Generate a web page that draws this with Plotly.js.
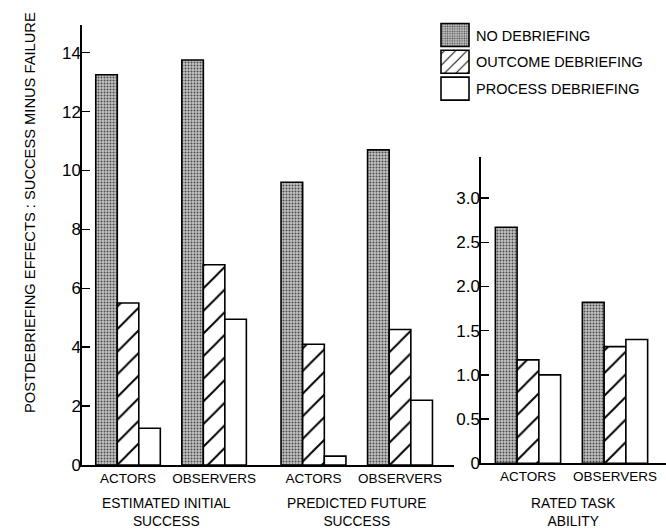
<!DOCTYPE html>
<html>
<head>
<meta charset="utf-8">
<script src="https://cdn.plot.ly/plotly-3.0.1.min.js"></script>
<style>html,body{margin:0;padding:0;background:#fff;}#chart{width:666px;height:532px;}</style>
</head>
<body>
<div id="chart"></div>
<script>
// ---- data ----
const groups = ["ACTORS", "OBSERVERS"];
const seriesNames = ["NO DEBRIEFING", "OUTCOME DEBRIEFING", "PROCESS DEBRIEFING"];
const panelTitles = ["ESTIMATED INITIAL<br>SUCCESS", "PREDICTED FUTURE<br>SUCCESS", "RATED TASK<br>ABILITY"];
const yTitle = "POSTDEBRIEFING EFFECTS : SUCCESS MINUS FAILURE";

const estNo = [13.25, 13.75];
const estOutcome = [5.5, 6.8];
const estProcess = [1.25, 4.95];

const predNo = [9.6, 10.7];
const predOutcome = [4.1, 4.6];
const predProcess = [0.3, 2.2];

const taskNo = [2.67, 1.82];
const taskOutcome = [1.17, 1.32];
const taskProcess = [1.0, 1.4];

const leftTicks = [0, 2, 4, 6, 8, 10, 12, 14];
const rightTicks = [0, 0.5, 1.0, 1.5, 2.0, 2.5, 3.0];
const rightTickText = ["0", "0.5", "1.0", "1.5", "2.0", "2.5", "3.0"];

// ---- styles ----
const W = 666, H = 532;
const px = v => v / W;
const py = v => 1 - v / H;
const FONT = "Liberation Sans, Arial, sans-serif";
const styles = [
  {color: "#bdbdbd", pattern: {shape: ".", fgcolor: "#4a4a4a", bgcolor: "#c4c4c4", size: 3, solidity: 0.35}},
  {color: "#ffffff", pattern: {shape: "/", fgcolor: "#000000", bgcolor: "#ffffff", size: 16, solidity: 0.12}},
  {color: "#ffffff"}
];

function mk(vals, i, xa, ya, showLeg) {
  const s = styles[i];
  const marker = {color: s.color, line: {color: "#000", width: 1.6}};
  if (s.pattern) marker.pattern = s.pattern;
  return {
    type: "bar", x: groups, y: vals, name: seriesNames[i],
    xaxis: xa, yaxis: ya, marker: marker,
    legendgroup: "g" + i, showlegend: showLeg, hoverinfo: "skip"
  };
}

const data = [
  mk(estNo, 0, "x", "y", true), mk(estOutcome, 1, "x", "y", true), mk(estProcess, 2, "x", "y", true),
  mk(predNo, 0, "x2", "y", false), mk(predOutcome, 1, "x2", "y", false), mk(predProcess, 2, "x2", "y", false),
  mk(taskNo, 0, "x3", "y2", false), mk(taskOutcome, 1, "x3", "y2", false), mk(taskProcess, 2, "x3", "y2", false)
];

const xBase = {
  type: "category", showline: true, linecolor: "#000", linewidth: 1.6,
  ticks: "", showgrid: false, zeroline: false, fixedrange: true,
  tickfont: {family: FONT, size: 13.5, color: "#000"}
};
const yBase = {
  showline: true, linecolor: "#000", linewidth: 1.6, ticks: "inside", ticklen: 8,
  tickwidth: 1.5, tickcolor: "#000", showgrid: false, zeroline: false, fixedrange: true,
  ticklabelstandoff: -4,
  tickfont: {family: FONT, size: 17, color: "#000"}
};

const titleFont = {family: FONT, size: 13.8, color: "#000"};

const layout = {
  width: W, height: H,
  margin: {l: 0, r: 0, t: 0, b: 0},
  paper_bgcolor: "#fff", plot_bgcolor: "rgba(0,0,0,0)",
  barmode: "group", bargap: 0.25, bargroupgap: 0,
  font: {family: FONT, color: "#000"},
  showlegend: true,
  legend: {x: px(436), y: py(19), xanchor: "left", yanchor: "top",
           font: {family: FONT, size: 14.5, color: "#000"}, tracegroupgap: 5,
           bgcolor: "rgba(0,0,0,0)"},
  xaxis: Object.assign({}, xBase, {domain: [px(82), px(264)], range: [-0.535, 1.58], anchor: "y"}),
  xaxis2: Object.assign({}, xBase, {domain: [px(264), px(454)], range: [-0.572, 1.624], anchor: "y"}),
  xaxis3: Object.assign({}, xBase, {domain: [px(481), px(666)], range: [-0.54, 1.586], anchor: "y2"}),
  yaxis: Object.assign({}, yBase, {domain: [py(465), py(25)], range: [0, 14.94], anchor: "x",
          tickvals: leftTicks}),
  yaxis2: Object.assign({}, yBase, {domain: [py(463.3), py(157)], range: [0, 3.465], anchor: "x3",
          tickvals: rightTicks, ticktext: rightTickText}),
  annotations: [
    {text: yTitle, xref: "paper", yref: "paper", x: px(30), y: py(213), textangle: -90,
     xanchor: "center", yanchor: "middle",
     showarrow: false, font: {family: FONT, size: 14.7, color: "#000"}},
    {text: panelTitles[0], xref: "paper", yref: "paper", x: px(166), y: py(494), yanchor: "top",
     xanchor: "center", showarrow: false, font: titleFont},
    {text: panelTitles[1], xref: "paper", yref: "paper", x: px(357), y: py(494), yanchor: "top",
     xanchor: "center", showarrow: false, font: titleFont},
    {text: panelTitles[2], xref: "paper", yref: "paper", x: px(573), y: py(494), yanchor: "top",
     xanchor: "center", showarrow: false, font: titleFont}
  ]
};

Plotly.newPlot("chart", data, layout, {staticPlot: true, displayModeBar: false}).then(function (gd) {
  // enlarge the legend swatches to the boxed keys of the original figure
  gd.querySelectorAll(".legend .legendpoints path").forEach(function (p) {
    p.setAttribute("d", "M-15,11.5V-11.5H13V11.5Z");
  });
});
</script>
</body>
</html>
